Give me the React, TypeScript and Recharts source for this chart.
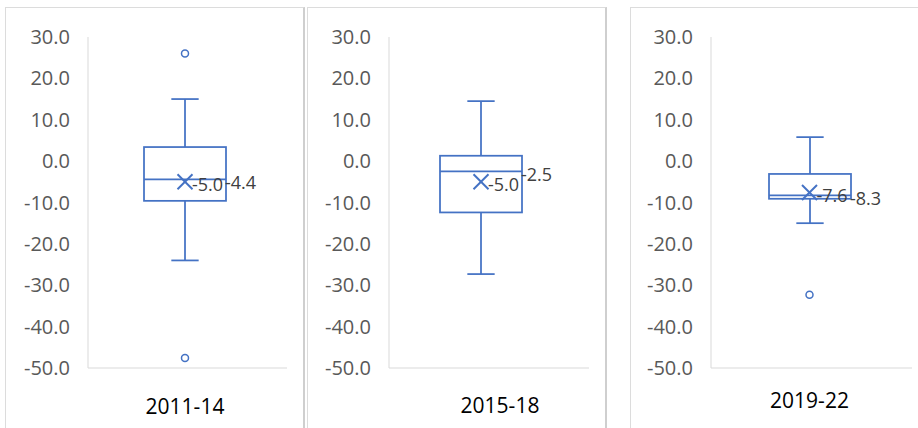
import React from 'react';
import { ComposedChart, Bar, Scatter, XAxis, YAxis } from 'recharts';

const categories = ['2011-14', '2015-18', '2019-22'];
const whiskerLow = [-24.0, -27.3, -15.0];
const quartile1 = [-9.6, -12.4, -9.1];
const medians = [-4.4, -2.5, -8.3];
const quartile3 = [3.4, 1.3, -3.1];
const whiskerHigh = [15.0, 14.5, 5.8];
const means = [-5.0, -5.0, -7.6];
const outliers: number[][] = [[26.0, -47.6], [], [-32.3]];
const yTicks = [30, 20, 10, 0, -10, -20, -30, -40, -50];

const BLUE = '#4472C4';
const FONT = '"Open Sans", sans-serif';

const panels = [
  { left: 0, width: 305, yAxisWidth: 88, marginRight: 18, padRight: 5, tickDx: 0, tickMargin: 31 },
  { left: 307, width: 300, yAxisWidth: 82, marginRight: 18, padRight: 16, tickDx: 19, tickMargin: 30 },
  { left: 630, width: 288, yAxisWidth: 81, marginRight: 6, padRight: 4, tickDx: 0, tickMargin: 25 },
];

const frames = [
  { left: 5, width: 300 },
  { left: 307, width: 300 },
  { left: 630, width: 300 },
];

const BoxShape = (props: any) => {
  const { x, y, width, height, payload } = props;
  if (x == null || y == null) return null;
  const top = Math.min(y, y + height);
  const bot = Math.max(y, y + height);
  const hi = payload.high;
  const lo = payload.low;
  const py = (v: number) => top + ((hi - v) / (hi - lo)) * (bot - top);
  const cx = x + width / 2;
  const capW = width / 3;
  const yq3 = py(payload.q3);
  const yq1 = py(payload.q1);
  const ymed = py(payload.median);
  return (
    <g>
      <line x1={cx} x2={cx} y1={top} y2={yq3} stroke={BLUE} strokeWidth={1.75} />
      <line x1={cx} x2={cx} y1={yq1} y2={bot} stroke={BLUE} strokeWidth={1.75} />
      <line x1={cx - capW / 2} x2={cx + capW / 2} y1={top} y2={top} stroke={BLUE} strokeWidth={1.75} />
      <line x1={cx - capW / 2} x2={cx + capW / 2} y1={bot} y2={bot} stroke={BLUE} strokeWidth={1.75} />
      <rect x={x} y={yq3} width={width} height={yq1 - yq3} fill="none" stroke={BLUE} strokeWidth={1.75} />
      <line x1={x} x2={x + width} y1={ymed} y2={ymed} stroke={BLUE} strokeWidth={1.75} />
      <text x={x + width - 1} y={ymed + 2.5} dominantBaseline="central" fontFamily={FONT} fontSize={18} fill="#404040">
        {payload.median.toFixed(1)}
      </text>
    </g>
  );
};

const MeanShape = (props: any) => {
  const { cx, cy, payload } = props;
  if (cx == null || cy == null) return null;
  const s = 7.5;
  return (
    <g>
      <line x1={cx - s} x2={cx + s} y1={cy - s} y2={cy + s} stroke={BLUE} strokeWidth={2} />
      <line x1={cx - s} x2={cx + s} y1={cy + s} y2={cy - s} stroke={BLUE} strokeWidth={2} />
      <text x={cx + 7} y={cy + 2} dominantBaseline="central" fontFamily={FONT} fontSize={18} fill="#404040">
        {payload.mean.toFixed(1)}
      </text>
    </g>
  );
};

const OutlierShape = (props: any) => {
  const { cx, cy } = props;
  if (cx == null || cy == null || isNaN(cy)) return null;
  return <circle cx={cx} cy={cy} r={3.5} fill="#fff" stroke={BLUE} strokeWidth={1.5} />;
};

const Panel = ({ i }: { i: number }) => {
  const p = panels[i];
  const row: any = {
    cat: categories[i],
    range: [whiskerLow[i], whiskerHigh[i]],
    low: whiskerLow[i],
    high: whiskerHigh[i],
    q1: quartile1[i],
    q3: quartile3[i],
    median: medians[i],
    mean: means[i],
  };
  outliers[i].forEach((v, k) => {
    row['o' + k] = v;
  });
  const data = [row];
  return (
    <div style={{ position: 'absolute', left: p.left, top: 0 }}>
      <ComposedChart
        width={p.width}
        height={428}
        data={data}
        margin={{ top: 37, right: p.marginRight, bottom: 20, left: 0 }}
      >
        <XAxis
          dataKey="cat"
          type="category"
          height={40}
          axisLine={{ stroke: '#d9d9d9', strokeWidth: 1 }}
          tickLine={false}
          tickSize={0}
          tickMargin={p.tickMargin}
          padding={{ left: 0, right: p.padRight }}
          tick={{ fill: '#000', fontSize: 21, fontFamily: FONT, dx: p.tickDx }}
        />
        <YAxis
          type="number"
          domain={[-50, 30]}
          ticks={yTicks}
          interval={0}
          width={p.yAxisWidth}
          axisLine={{ stroke: '#d9d9d9', strokeWidth: 1 }}
          tickLine={false}
          tickSize={0}
          tickMargin={18}
          tickFormatter={(v: number) => v.toFixed(1)}
          tick={{ fill: '#595959', fontSize: 20, fontFamily: FONT }}
        />
        <Bar dataKey="range" barSize={82} shape={<BoxShape />} isAnimationActive={false} />
        {outliers[i].map((_, k) => (
          <Scatter key={k} dataKey={'o' + k} shape={<OutlierShape />} isAnimationActive={false} />
        ))}
        <Scatter dataKey="mean" shape={<MeanShape />} isAnimationActive={false} />
      </ComposedChart>
    </div>
  );
};

export default function App() {
  return (
    <div
      style={{
        position: 'absolute',
        left: 0,
        top: 0,
        width: 918,
        height: 428,
        background: '#fff',
        overflow: 'hidden',
      }}
    >
      {frames.map((f, k) => (
        <div
          key={k}
          style={{
            position: 'absolute',
            left: f.left,
            top: 7,
            width: f.width - 3,
            height: 440,
            borderLeft: '1px solid #dcdcdc',
            borderTop: '1px solid #dcdcdc',
            borderRight: '2px solid #cfcfcf',
          }}
        />
      ))}
      {categories.map((_, i) => (
        <Panel key={i} i={i} />
      ))}
    </div>
  );
}
